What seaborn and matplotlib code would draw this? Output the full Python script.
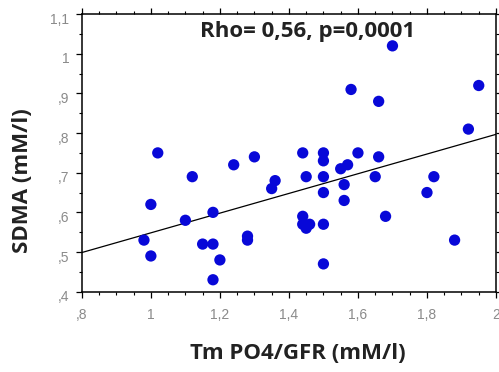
import numpy as np
import pandas as pd
import seaborn as sns
import matplotlib.pyplot as plt
import matplotlib.transforms as mtransforms
from matplotlib.ticker import FixedLocator, MultipleLocator

# values
tm_po4_gfr = [0.98, 1.00, 1.00, 1.02, 1.10, 1.12, 1.15, 1.18, 1.18, 1.18,
              1.20, 1.24, 1.28, 1.28, 1.30, 1.36, 1.35, 1.44, 1.45, 1.44,
              1.44, 1.45, 1.46, 1.50, 1.50, 1.50, 1.50, 1.50, 1.50, 1.55,
              1.57, 1.56, 1.56, 1.58, 1.60, 1.66, 1.65, 1.66, 1.68, 1.70,
              1.80, 1.82, 1.88, 1.92, 1.95]
sdma = [0.53, 0.62, 0.49, 0.75, 0.58, 0.69, 0.52, 0.52, 0.60, 0.43,
        0.48, 0.72, 0.54, 0.53, 0.74, 0.68, 0.66, 0.75, 0.69, 0.59,
        0.57, 0.56, 0.57, 0.75, 0.73, 0.69, 0.65, 0.57, 0.47, 0.71,
        0.72, 0.67, 0.63, 0.91, 0.75, 0.74, 0.69, 0.88, 0.59, 1.02,
        0.65, 0.69, 0.53, 0.81, 0.92]

xticks = [0.8, 1.0, 1.2, 1.4, 1.6, 1.8, 2.0]
xtick_labels = [",8", "1", "1,2", "1,4", "1,6", "1,8", "2"]
yticks = [0.4, 0.5, 0.6, 0.7, 0.8, 0.9, 1.0, 1.1]
ytick_labels = [",4", ",5", ",6", ",7", ",8", ",9", "1", "1,1"]
stat_text = "Rho= 0,56, p=0,0001"

df = pd.DataFrame({"tm": tm_po4_gfr, "sdma": sdma})

sns.set_style("ticks")
plt.rcParams["font.family"] = ["Open Sans", "DejaVu Sans"]

fig = plt.figure(figsize=(4.99, 3.72), dpi=100)
ax = fig.add_axes([0.164, 0.216, 0.830, 0.746])
ax.set_xlim(0.8, 2.0)
ax.set_ylim(0.4, 1.1)

# regression line spans the full x range, like the original
sns.regplot(data=df, x="tm", y="sdma", ax=ax, ci=None, truncate=False,
            scatter_kws={"s": 66, "color": "#0808d8", "alpha": 1,
                         "edgecolor": "none", "zorder": 3},
            line_kws={"color": "black", "lw": 0.9, "zorder": 2})

ax.set_xlim(0.8, 2.0)
ax.set_ylim(0.4, 1.1)

ax.xaxis.set_major_locator(FixedLocator(xticks))
ax.yaxis.set_major_locator(FixedLocator(yticks))
ax.set_xticklabels(xtick_labels, family="Liberation Sans")
ax.set_yticklabels(ytick_labels, family="Liberation Sans")
ax.xaxis.set_minor_locator(MultipleLocator(0.05))
ax.yaxis.set_minor_locator(MultipleLocator(0.05))
ax.tick_params(which="both", direction="out", top=True, right=True,
               color="black", labelcolor="#8a8a8a", labelsize=10)
ax.tick_params(which="major", length=4, width=0.9)
ax.tick_params(which="minor", length=2.5, width=0.8)
ax.tick_params(axis="x", pad=8)
ax.tick_params(axis="y", pad=5)

# y tick labels sit a little below their ticks in the original
shift = mtransforms.ScaledTranslation(0, -3 / 72, fig.dpi_scale_trans)
for lab in ax.get_yticklabels():
    lab.set_transform(lab.get_transform() + shift)

for spine in ax.spines.values():
    spine.set_visible(True)
    spine.set_linewidth(1.1)
    spine.set_color("black")

ax.set_xlabel("Tm PO4/GFR (mM/l)", fontsize=16, fontweight="bold",
              color="#222222")
ax.xaxis.set_label_coords(0.522, -0.185)
ax.set_ylabel("SDMA (mM/l)", fontsize=16, fontweight="bold",
              color="#222222")
ax.yaxis.set_label_coords(-0.118, 0.40)

ax.text(0.546, 0.916, stat_text, transform=ax.transAxes, ha="center",
        va="baseline", fontsize=16, fontweight="bold", color="#222222")

fig.savefig("out.png", dpi=100, facecolor="white")
